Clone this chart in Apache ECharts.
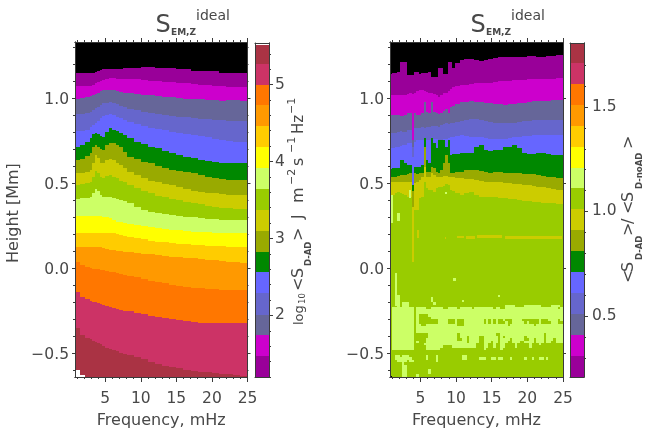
<!DOCTYPE html>
<html><head><meta charset="utf-8">
<style>html,body{margin:0;padding:0;background:#fff}#c{width:654px;height:435px}</style>
<script src="https://cdn.jsdelivr.net/npm/echarts@6/dist/echarts.min.js"></script>
</head><body><div id="c"></div>
<script>
// Band colours, from the top of the colour bar downward; black = below range, white = above range
const bandColors = ['#aa3344','#cc3366','#ff7700','#ff9900','#ffcc00','#ffff00','#ccff66','#99cc00','#cccc00','#99aa00','#008800','#6666ff','#6666cc','#666699','#cc00cc','#990099','#000000'];
const WHITE = -1;

const freqTicks = [5,10,15,20,25];
const freqMinor = [1,2,3,4,6,7,8,9,11,12,13,14,16,17,18,19,21,22,23,24];
const heightTicks = [-0.5,0,0.5,1];
const heightMinor = [-0.6,-0.4,-0.3,-0.2,-0.1,0.1,0.2,0.3,0.4,0.6,0.7,0.8,0.9,1.1,1.2,1.3];
const leftBarTicks = [2,3,4,5];
const leftBarMinor = [1.2,1.4,1.6,1.8,2.2,2.4,2.6,2.8,3.2,3.4,3.6,3.8,4.2,4.4,4.6,4.8,5.2,5.4];
const rightBarTicks = [0.5,1,1.5];
const rightBarMinor = [0.3,0.4,0.6,0.7,0.8,0.9,1.1,1.2,1.3,1.4,1.6,1.7];
const leftBarLevels = [1.2,1.47,1.74,2.01,2.29,2.56,2.83,3.1,3.37,3.64,3.91,4.19,4.46,4.73,5.0,5.27,5.52];
const rightBarLevels = [0.21,0.31,0.41,0.51,0.61,0.71,0.81,0.91,1.01,1.11,1.21,1.31,1.41,1.51,1.61,1.71,1.80];

// LEFT PANEL: column edges (mHz) and the height (Mm) of each contour in each column
const leftFreq = [0.75,1.5,2.2,2.8,3.2,3.5,3.8,4.2,4.5,5,5.5,6,6.5,7,7.5,8,9,10,11,12,13,14,15,16,17,18,19,20,21,22,23,24,25];
const Lw = [-0.6,-0.632,-0.66,-0.66,-0.66,-0.66,-0.66,-0.66,-0.66,-0.66,-0.66,-0.66,-0.66,-0.66,-0.66,-0.66,-0.66,-0.66,-0.66,-0.66,-0.66,-0.66,-0.66,-0.66,-0.66,-0.66,-0.66,-0.66,-0.66,-0.66,-0.66,-0.66];
const L0 = [-.355,-.395,-.414,-.42,-.428,-.434,-.44,-.448,-.459,-.471,-.479,-.485,-.491,-.497,-.504,-.512,-.524,-.534,-.551,-.563,-.575,-.583,-.589,-.597,-.604,-.61,-.614,-.618,-.622,-.626,-.63,-.634];
const L1 = [-.14,-.169,-.185,-.193,-.198,-.202,-.206,-.21,-.218,-.224,-.228,-.234,-.24,-.246,-.25,-.255,-.263,-.271,-.281,-.287,-.293,-.3,-.306,-.312,-.316,-.322,-.326,-.326,-.326,-.326,-.326,-.326];
const L2 = [.037,.017,.003,-.002,-.004,-.006,-.008,-.01,-.012,-.016,-.022,-.026,-.03,-.036,-.04,-.046,-.055,-.063,-.075,-.083,-.091,-.1,-.104,-.11,-.116,-.12,-.124,-.126,-.128,-.13,-.13,-.13];
const L3 = [.125,.125,.125,.125,.125,.125,.123,.121,.115,.109,.105,.103,.101,.099,.096,.092,.088,.084,.08,.076,.07,.066,.062,.058,.056,.052,.049,.045,.041,.037,.035,.031];
const L4 = [.207,.207,.207,.207,.207,.207,.207,.205,.203,.203,.203,.203,.2,.194,.188,.18,.174,.168,.16,.154,.15,.147,.143,.139,.135,.133,.131,.129,.127,.125,.125,.125];
const L5 = [.305,.305,.305,.305,.305,.305,.305,.303,.301,.298,.292,.282,.272,.268,.264,.258,.252,.249,.239,.233,.227,.223,.221,.217,.213,.211,.209,.207,.207,.207,.207,.207];
const L6 = [.405,.409,.413,.419,.443,.462,.454,.429,.419,.419,.415,.409,.405,.4,.394,.38,.356,.341,.331,.325,.319,.311,.307,.301,.298,.294,.29,.286,.282,.282,.282,.282];
const L7 = [.488,.492,.498,.507,.537,.572,.556,.533,.527,.541,.547,.537,.527,.513,.503,.488,.468,.452,.439,.425,.415,.405,.4,.39,.38,.374,.366,.36,.354,.35,.347,.345];
const L8 = [.556,.56,.566,.576,.615,.664,.645,.619,.619,.635,.643,.635,.619,.605,.59,.566,.547,.527,.513,.503,.494,.488,.478,.464,.454,.449,.443,.439,.433,.429,.429,.429];
const L9 = [.635,.639,.658,.678,.713,.723,.713,.698,.694,.723,.737,.733,.723,.709,.684,.654,.639,.625,.615,.601,.59,.576,.57,.562,.556,.547,.537,.527,.521,.517,.517,.517];
const L10 = [.713,.723,.743,.762,.788,.796,.788,.776,.772,.801,.821,.811,.805,.796,.782,.762,.743,.727,.713,.703,.69,.674,.664,.654,.645,.635,.627,.621,.615,.615,.615,.615];
const L11 = [.805,.805,.811,.827,.841,.854,.866,.88,.894,.901,.903,.9,.89,.88,.87,.86,.847,.835,.825,.817,.809,.801,.796,.788,.782,.776,.768,.76,.752,.747,.743,.741];
const L12 = [.905,.905,.909,.919,.929,.939,.949,.958,.968,.972,.974,.972,.964,.952,.945,.937,.927,.919,.913,.905,.9,.894,.89,.886,.882,.878,.874,.87,.868,.866,.866,.866];
const L13 = [.994,.998,1.003,1.011,1.017,1.023,1.031,1.039,1.047,1.047,1.047,1.047,1.043,1.033,1.031,1.029,1.023,1.019,1.015,1.011,1.007,1.003,1.0,.996,.994,.992,.99,.988,.984,.986,.988,.984];
const L14 = [1.07,1.07,1.07,1.07,1.076,1.086,1.094,1.098,1.105,1.111,1.115,1.115,1.113,1.111,1.111,1.109,1.109,1.105,1.102,1.098,1.096,1.092,1.09,1.086,1.082,1.078,1.074,1.07,1.07,1.066,1.066,1.066];
const L15 = [1.145,1.145,1.145,1.145,1.145,1.155,1.16,1.165,1.168,1.172,1.172,1.172,1.172,1.172,1.174,1.174,1.178,1.18,1.18,1.178,1.176,1.174,1.172,1.17,1.16,1.16,1.158,1.156,1.149,1.145,1.145,1.145];

// RIGHT PANEL: contour heights per column
const rightFreq = [.75,1.09,1.42,1.76,2.1,2.43,2.77,3.11,3.44,3.78,4.12,4.45,4.79,5.13,5.46,5.8,6.14,6.47,6.81,7.15,7.48,7.82,8.16,8.49,8.83,9.17,9.5,9.84,10.51,11.19,11.86,12.53,13.2,13.88,14.55,15.22,15.9,16.57,17.24,17.91,18.59,19.26,19.93,20.61,21.28,21.95,22.62,23.3,23.97,24.64,25];
const R7 = [.429,.429,.443,.449,.443,.435,.429,.419,.419,.037,.341,.341,.409,.419,.507,.468,.458,.458,.449,.468,.478,.478,.482,.494,.488,.458,.454,.443,.429,.439,.449,.429,.419,.415,.419,.419,.413,.409,.405,.403,.4,.396,.394,.39,.386,.384,.384,.38,.376,.376];
const R8 = [.507,.507,.507,.507,.507,.507,.507,.507,.507,.359,.498,.507,.517,.537,.596,.537,.537,.556,.547,.537,.537,.537,.541,.541,.537,.533,.533,.527,.527,.523,.521,.517,.513,.507,.507,.507,.503,.501,.498,.494,.492,.488,.488,.482,.478,.474,.468,.464,.458,.458];
const R9 = [.537,.537,.537,.541,.547,.547,.547,.552,.556,.454,.556,.552,.556,.56,.713,.566,.566,.596,.586,.566,.556,.576,.615,.664,.615,.56,.556,.566,.566,.576,.576,.576,.572,.566,.56,.566,.566,.56,.556,.56,.556,.552,.552,.552,.547,.541,.537,.533,.527,.527];
const R10 = [.58,.586,.586,.586,.635,.635,.615,.605,.605,.488,.596,.596,.596,.605,.762,.635,.615,.762,.733,.703,.752,.752,.752,.713,.752,.664,.67,.67,.674,.674,.678,.713,.721,.694,.69,.694,.694,.713,.713,.723,.703,.674,.67,.67,.674,.674,.67,.664,.664,.664];
const R11 = [.703,.703,.713,.713,.717,.723,.723,.733,.733,.654,.743,.752,.752,.752,.752,.752,.752,.756,.756,.756,.752,.752,.756,.76,.762,.768,.772,.776,.782,.776,.772,.768,.768,.764,.76,.756,.756,.76,.764,.768,.772,.776,.776,.78,.78,.782,.782,.782,.782,.782];
const R12 = [.796,.796,.796,.801,.807,.801,.801,.811,.811,.713,.821,.821,.821,.831,.821,.831,.831,.835,.835,.835,.831,.841,.847,.851,.847,.851,.854,.86,.866,.87,.874,.874,.87,.866,.86,.854,.851,.851,.851,.854,.86,.866,.866,.87,.87,.87,.87,.87,.87,.87];
const R13 = [.9,.9,.9,.9,.894,.894,.9,.909,.909,.752,.909,.9,.9,.909,.978,.919,.909,.978,.919,.909,.905,.913,.925,.933,.909,.949,.952,.964,.978,.978,.982,.978,.978,.972,.968,.964,.962,.96,.962,.964,.968,.972,.978,.982,.982,.984,.984,.988,.988,.988];
const R14 = [1.017,1.017,1.017,1.017,1.017,1.017,1.017,1.021,1.027,1.023,1.031,1.043,1.047,1.047,1.043,1.037,1.031,1.027,1.023,1.017,1.007,1.017,1.027,1.031,1.043,1.051,1.066,1.07,1.076,1.078,1.082,1.086,1.086,1.086,1.09,1.094,1.1,1.1,1.102,1.105,1.105,1.105,1.109,1.109,1.109,1.111,1.111,1.113,1.115,1.115];
const R15 = [1.141,1.145,1.149,1.154,1.213,1.213,1.213,1.135,1.135,1.135,1.154,1.154,1.141,1.145,1.145,1.149,1.154,1.121,1.121,1.121,1.174,1.174,1.141,1.141,1.213,1.213,1.174,1.203,1.223,1.227,1.227,1.223,1.219,1.223,1.227,1.233,1.239,1.239,1.239,1.241,1.243,1.243,1.247,1.247,1.243,1.243,1.247,1.247,1.252,1.252];

// Ratio above the next level on the fine frequency-height grid (# = band 6), low-height region
const fineFreqStart = 0.75, fineFreqStep = 0.3366, fineHeightTop = -0.159, fineHeightStep = 0.01412;
const fineLow = ["...#","...#.............#","...#.............#............#","...#.###..........#","...#.###",".#########.####..#####..####.#####.#",".#########.#########################",".#########.#########################",".#########.#....####################",".#########.#.....###################",".#########.#........####...#...#####",".#########.#........####...#...#####",".#########.##..#############...#####",".#########.#########################",".#########.#########################",".#########.#########################",".#########......############.#######",".#########......############.###.###",".#########.....#############..##.###",".#########.#...#################.###",".#########....######################",".#########.....#######....##########",".#########.....######","","","..##.###.......#...#..........##","..#######......#...#..........##","...####.##.........#",".....#",".....##",".....##",".....##.........#",".....##.........#",".....##....#"];
const fineHigh = [".........#","","","","............####....#######....####","#######.##..######################.#","####################################","####################################","####################################","####################################","###.#.#.#..#...####.......#...####.#","###.#.#.#...#..#####.#....#....###..","#############.##########.###########","####################################","####################################","####################################","########..##################.#######","#..######.#.########.#######.#######","#..######.####.#####..##.###.###.###","#..###.##.###..###..####.###.##..###","...##..#..##....#.....#...#","...##..#..##....#.....#","...#......#","","","",".###..##.##...#.....#..#..##.#","","","","","","",""];
// Isolated cells higher up: [freq from, freq to, height from, height to, band]
const rightSpots = [[.85,1.15,.265,.43,6],[1.45,1.73,-.224,-.03,6],[1.8,2.15,.276,.324,6],[3.37,3.72,.412,.459,6],[8.4,8.7,.435,.447,6],[9.6,10,-.076,-.06,6],[4.5,4.85,.176,.224,8],[8.45,8.6,.17,.18,8],[10.1,11.1,.175,.19,8],[11.4,12.6,.172,.19,8],[12.9,16.5,.178,.192,8],[16.8,24.8,.172,.188,8],[.75,1.09,-.645,-.635,16]];

const cellsFrom = (edges, bounds, firstBand, yMin, yMax) => {
  const out = [];
  for (let i = 0; i < edges.length - 1; i++) {
    let lo = yMin;
    for (let k = 0; k <= bounds.length; k++) {
      const hi = k < bounds.length ? bounds[k][i] : yMax;
      if (hi > lo) out.push([edges[i], edges[i+1], lo, hi, firstBand + k]);
      lo = Math.max(lo, hi);
    }
  }
  return out;
};
const Y_MIN = -0.641, Y_MAX = 1.329, X_MIN = 0.75, X_MAX = 25;
const leftCells = cellsFrom(leftFreq, [Lw,L0,L1,L2,L3,L4,L5,L6,L7,L8,L9,L10,L11,L12,L13,L14,L15], WHITE, Y_MIN, Y_MAX);
const rightCells = cellsFrom(rightFreq, [R7,R8,R9,R10,R11,R12,R13,R14,R15], 7, Y_MIN, Y_MAX);
function fineCell(c, r) {
  const t = fineHeightTop - r * fineHeightStep;
  return [fineFreqStart + c * fineFreqStep, fineFreqStart + (c + 1) * fineFreqStep, t - fineHeightStep, t, 6];
}
fineLow.forEach((s, r) => { [...s].forEach((ch, c) => { if (ch === '#') rightCells.push(fineCell(c, r)); }); });
fineHigh.forEach((s, r) => { [...s].forEach((ch, c) => { if (ch === '#') rightCells.push(fineCell(c + 36, r)); }); });
rightSpots.forEach(s => rightCells.push(s));
const barCells = (levels) => levels.slice(0, -1).map((v, k) => [0, 1, v, levels[k+1], 15 - k]);

const renderCell = (params, api) => {
  const a = api.coord([api.value(0), api.value(3)]), b = api.coord([api.value(1), api.value(2)]);
  const x = Math.round(a[0]), y = Math.round(a[1]);
  const idx = api.value(4);
  return {type:'rect', shape:{x, y, width:Math.round(b[0]) - x, height:Math.round(b[1]) - y},
          style:{fill: idx < 0 ? '#ffffff' : bandColors[idx]}};
};
const cellSeries = (g, data, xi, yi) => ({type:'custom', coordinateSystem:'cartesian2d', xAxisIndex:xi, yAxisIndex:yi,
  data, renderItem:renderCell, clip:true, silent:true, animation:false, progressive:0, z:2});

const INK = '#3a3a3a', TEXT = '#484848', FONT = 'DejaVu Sans';
const xAxes = [], yAxes = [];
function axis(list, o) {
  const label = {show:true, customValues:o.labels, color:TEXT, fontFamily:FONT, fontSize:15.5, margin:o.margin, formatter:o.fmt};
  if (o.nudge) { label.verticalAlign = 'top'; label.lineHeight = o.nudge; }
  list.push({type:'value', gridIndex:o.g, position:o.pos, min:o.min, max:o.max, z:6, silent:true,
    splitLine:{show:false}, minorTick:{show:false}, minorSplitLine:{show:false},
    axisLine:{show:true, onZero:false, lineStyle:{color:INK, width:1}},
    axisTick:{show:true, inside:false, length:o.len, customValues:o.ticks, lineStyle:{color:INK, width:1}},
    axisLabel:o.labels ? label : {show:false},
    name:o.name || '', nameLocation:'middle', nameGap:o.gap || 0, nameTextStyle:{color:TEXT, fontFamily:FONT, fontSize:o.nameSize || 15}});
  return list.length - 1;
}
const fmtH = v => (v < 0 ? '\u2212' : '') + Math.abs(v).toFixed(1);
const series = [];
function panel(g, cells) {
  const xi = axis(xAxes, {g, pos:'bottom', min:X_MIN, max:X_MAX, len:5, ticks:freqTicks, labels:freqTicks, margin:14, fmt:v => String(v), name:'Frequency, mHz', gap:36, nameSize:16});
  axis(xAxes, {g, pos:'bottom', min:X_MIN, max:X_MAX, len:2, ticks:freqMinor});
  axis(xAxes, {g, pos:'top', min:X_MIN, max:X_MAX, len:4, ticks:freqTicks});
  axis(xAxes, {g, pos:'top', min:X_MIN, max:X_MAX, len:2, ticks:freqMinor});
  const yi = axis(yAxes, {g, pos:'left', min:Y_MIN, max:Y_MAX, len:3, ticks:heightTicks, labels:heightTicks, margin:6, nudge:4, fmt:fmtH});
  axis(yAxes, {g, pos:'left', min:Y_MIN, max:Y_MAX, len:2, ticks:heightMinor});
  axis(yAxes, {g, pos:'right', min:Y_MIN, max:Y_MAX, len:3, ticks:heightTicks});
  axis(yAxes, {g, pos:'right', min:Y_MIN, max:Y_MAX, len:1, ticks:heightMinor});
  series.push(cellSeries(g, cells, xi, yi));
}
function bar(g, levels, min, max, ticks, minor, fmt, margin) {
  const xi = axis(xAxes, {g, pos:'bottom', min:0, max:1, len:0, ticks:[]});
  axis(xAxes, {g, pos:'top', min:0, max:1, len:0, ticks:[]});
  const yi = axis(yAxes, {g, pos:'right', min, max, len:4, ticks, labels:ticks, margin, fmt});
  axis(yAxes, {g, pos:'right', min, max, len:2, ticks:minor});
  axis(yAxes, {g, pos:'left', min, max, len:0, ticks:[]});
  series.push(cellSeries(g, barCells(levels), xi, yi));
}
panel(0, leftCells);
panel(1, rightCells);
bar(2, leftBarLevels, 1.2, 5.54, leftBarTicks, leftBarMinor, v => String(v), 6);
bar(3, rightBarLevels, 0.208, 1.806, rightBarTicks, rightBarMinor, v => v.toFixed(1), 8);

// Titles and composite colour-bar labels: x, y give the text baseline start
const DESC = 0.236;
const flat = (text, x, y, size, weight) => ({type:'text', x, y:y + DESC * size, silent:true, z:20,
  style:{text, fill:TEXT, font:(weight || 'normal') + ' ' + size + 'px "' + FONT + '"', align:'left', verticalAlign:'bottom'}});
const up = (text, x, y, size, weight) => ({type:'text', x:x + DESC * size, y, rotation:Math.PI/2, silent:true, z:20,
  style:{text, fill:TEXT, font:(weight || 'normal') + ' ' + size + 'px "' + FONT + '"', align:'left', verticalAlign:'bottom'}});
const title = (x) => [flat('S', x, 32, 24), flat('EM,Z', x + 15.5, 35, 9, 'bold'), flat('ideal', x + 40.5, 20, 14)];
const graphic = [...title(155.5), ...title(470.5), up('Height [Mm]', 18, 263, 16),
  up('log', 303, 325, 13), up('10', 305, 304, 8.5), up('<', 303, 291, 16), up('S', 303, 278, 16), up('D-AD', 311, 266, 8.5, 'bold'),
  up('>', 303, 241, 16), up('J', 303, 219, 15), up('m', 303, 203, 16), up('\u22122', 295, 185, 11), up('s', 303, 166, 16),
  up('\u22121', 295, 153, 11), up('Hz', 303, 134, 15), up('\u22121', 295, 114, 11),
  up('<', 633, 283, 16), up('S', 633, 272, 16), up('D-AD', 642, 260, 8.5, 'bold'), up('>', 633, 236, 16), up('/', 633, 224, 16),
  up('<', 633, 214, 16), up('S', 633, 202, 16), up('D-noAD', 642, 189, 8.5, 'bold'), up('>', 633, 149, 16)];

const chart = echarts.init(document.getElementById('c'), null, {renderer:'canvas'});
chart.setOption({
  animation:false, backgroundColor:'#fff',
  grid:[
    {left:75, top:42, width:172.5, height:335, containLabel:false},
    {left:390, top:42, width:173, height:335, containLabel:false},
    {left:255, top:43, width:14, height:334, containLabel:false},
    {left:570, top:43, width:14, height:334, containLabel:false}
  ],
  xAxis:xAxes, yAxis:yAxes, series, graphic
});
</script></body></html>
